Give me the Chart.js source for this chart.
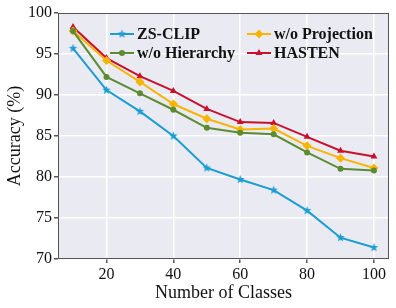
<!DOCTYPE html>
<html>
<head>
<meta charset="utf-8">
<script src="https://cdn.jsdelivr.net/npm/chart.js@4.4.1/dist/chart.umd.min.js"></script>
<style>
  html, body { margin: 0; padding: 0; background: #fff; }
  #wrap { width: 396px; height: 308px; }
</style>
</head>
<body>
<div id="wrap"><canvas id="accChart" width="396" height="308"></canvas></div>
<script>
// data
const classCounts = [10, 20, 30, 40, 50, 60, 70, 80, 90, 100];
const zsClip      = [95.7, 90.6, 88.0, 85.0, 81.1, 79.7, 78.4, 75.9, 72.6, 71.4];
const woHierarchy = [97.8, 92.2, 90.2, 88.2, 86.0, 85.4, 85.2, 83.0, 81.0, 80.8];
const woProjection = [97.8, 94.2, 91.6, 88.9, 87.1, 85.8, 85.9, 83.8, 82.3, 81.1];
const hasten      = [98.3, 94.5, 92.3, 90.5, 88.3, 86.7, 86.6, 84.9, 83.2, 82.5];
const xTicks = [20, 40, 60, 80, 100];
const yTicks = [70, 75, 80, 85, 90, 95, 100];

const SERIF = "'Liberation Serif', 'Times New Roman', serif";

// filled star like matplotlib '*'
function makeStar(color, r) {
    const c = document.createElement("canvas");
    const size = Math.ceil(r * 2 + 2);
    c.width = size; c.height = size;
    const ctx = c.getContext("2d");
    ctx.fillStyle = color;
    ctx.beginPath();
    for (let i = 0; i < 10; i++) {
        const rad = i % 2 === 0 ? r : r * 0.42;
        const a = -Math.PI / 2 + i * Math.PI / 5;
        const px = size / 2 + rad * Math.cos(a);
        const py = size / 2 + rad * Math.sin(a);
        if (i === 0) ctx.moveTo(px, py); else ctx.lineTo(px, py);
    }
    ctx.closePath();
    ctx.fill();
    return c;
}

const series = [
    { label: "ZS-CLIP", data: zsClip, color: "#1b9dd0", style: makeStar("#1b9dd0", 4.5), radius: 4 },
    { label: "w/o Hierarchy", data: woHierarchy, color: "#5b8c32", style: "circle", radius: 3 },
    { label: "w/o Projection", data: woProjection, color: "#f7b500", style: "rectRot", radius: 4.5 },
    { label: "HASTEN", data: hasten, color: "#c8102e", style: "triangle", radius: 4 }
];

// background + frame, like the seaborn darkgrid look
const plotFrame = {
    id: "plotFrame",
    beforeDraw(chart) {
        const { ctx, chartArea: a } = chart;
        ctx.save();
        ctx.fillStyle = "#eaeaf2";
        ctx.fillRect(a.left, a.top, a.right - a.left, a.bottom - a.top);
        ctx.restore();
    },
    afterDraw(chart) {
        const { ctx, chartArea: a } = chart;
        ctx.save();
        ctx.strokeStyle = "#555";
        ctx.lineWidth = 1;
        ctx.strokeRect(a.left + 0.5, a.top + 0.5, a.right - a.left - 1, a.bottom - a.top - 1);
        ctx.restore();
    }
};

// legend drawn inside the plot, two columns
const insideLegend = {
    id: "insideLegend",
    afterDatasetsDraw(chart) {
        const { ctx } = chart;
        const cols = [110, 247];
        const rows = [34, 53];
        const order = [0, 2, 1, 3]; // row-major: ZS-CLIP, w/o Projection / w/o Hierarchy, HASTEN
        ctx.save();
        order.forEach((dsIdx, k) => {
            const ds = chart.data.datasets[dsIdx];
            const s = series[dsIdx];
            const x = cols[k % 2];
            const y = rows[Math.floor(k / 2)];
            ctx.strokeStyle = ds.borderColor;
            ctx.lineWidth = 2;
            ctx.beginPath();
            ctx.moveTo(x, y);
            ctx.lineTo(x + 24, y);
            ctx.stroke();
            const mx = x + 12;
            ctx.fillStyle = ds.borderColor;
            if (s.style instanceof HTMLCanvasElement) {
                ctx.drawImage(s.style, mx - s.style.width / 2, y - s.style.height / 2);
            } else if (s.style === "circle") {
                ctx.beginPath(); ctx.arc(mx, y, s.radius, 0, Math.PI * 2); ctx.fill();
            } else if (s.style === "rectRot") {
                const r = s.radius;
                ctx.beginPath();
                ctx.moveTo(mx, y - r); ctx.lineTo(mx + r, y); ctx.lineTo(mx, y + r); ctx.lineTo(mx - r, y);
                ctx.closePath(); ctx.fill();
            } else if (s.style === "triangle") {
                const r = s.radius;
                ctx.beginPath();
                ctx.moveTo(mx, y - r); ctx.lineTo(mx + r * 0.87, y + r * 0.5); ctx.lineTo(mx - r * 0.87, y + r * 0.5);
                ctx.closePath(); ctx.fill();
            }
            ctx.fillStyle = "#111";
            ctx.font = "bold 16px " + SERIF;
            ctx.textBaseline = "middle";
            ctx.textAlign = "left";
            ctx.fillText(ds.label, x + 27, y + 1);
        });
        ctx.restore();
    }
};

new Chart(document.getElementById("accChart"), {
    type: "line",
    data: {
        datasets: series.map(s => ({
            label: s.label,
            data: classCounts.map((c, i) => ({ x: c, y: s.data[i] })),
            borderColor: s.color,
            backgroundColor: s.color,
            borderWidth: 2,
            pointStyle: s.style,
            pointRadius: s.radius,
            pointBorderWidth: 0,
            tension: 0
        }))
    },
    options: {
        responsive: false,
        animation: false,
        layout: { padding: { top: 13, right: 7, left: 0, bottom: 0 } },
        plugins: {
            legend: { display: false },
            tooltip: { enabled: false }
        },
        scales: {
            x: {
                type: "linear",
                min: 5.5,
                max: 104.5,
                afterBuildTicks: scale => { scale.ticks = xTicks.map(v => ({ value: v })); },
                afterFit: scale => { scale.height = 49; },
                grid: { color: "#ffffff", lineWidth: 1.5, tickColor: "#555", tickLength: 4 },
                border: { display: false },
                ticks: { color: "#111", font: { family: SERIF, size: 16 }, padding: 2, maxRotation: 0 },
                title: { display: true, text: "Number of Classes", color: "#111", font: { family: SERIF, size: 18 }, padding: { top: 0, bottom: 4 } }
            },
            y: {
                min: 70,
                max: 100,
                afterBuildTicks: scale => { scale.ticks = yTicks.map(v => ({ value: v })); },
                afterFit: scale => { scale.width = 58; },
                grid: { color: "#ffffff", lineWidth: 1.5, tickColor: "#555", tickLength: 4 },
                border: { display: false },
                ticks: { color: "#111", font: { family: SERIF, size: 16 }, padding: 2 },
                title: { display: true, text: "Accuracy (%)", color: "#111", font: { family: SERIF, size: 18 }, padding: { top: 4, bottom: 0 } }
            }
        }
    },
    plugins: [plotFrame, insideLegend]
});
</script>
</body>
</html>
